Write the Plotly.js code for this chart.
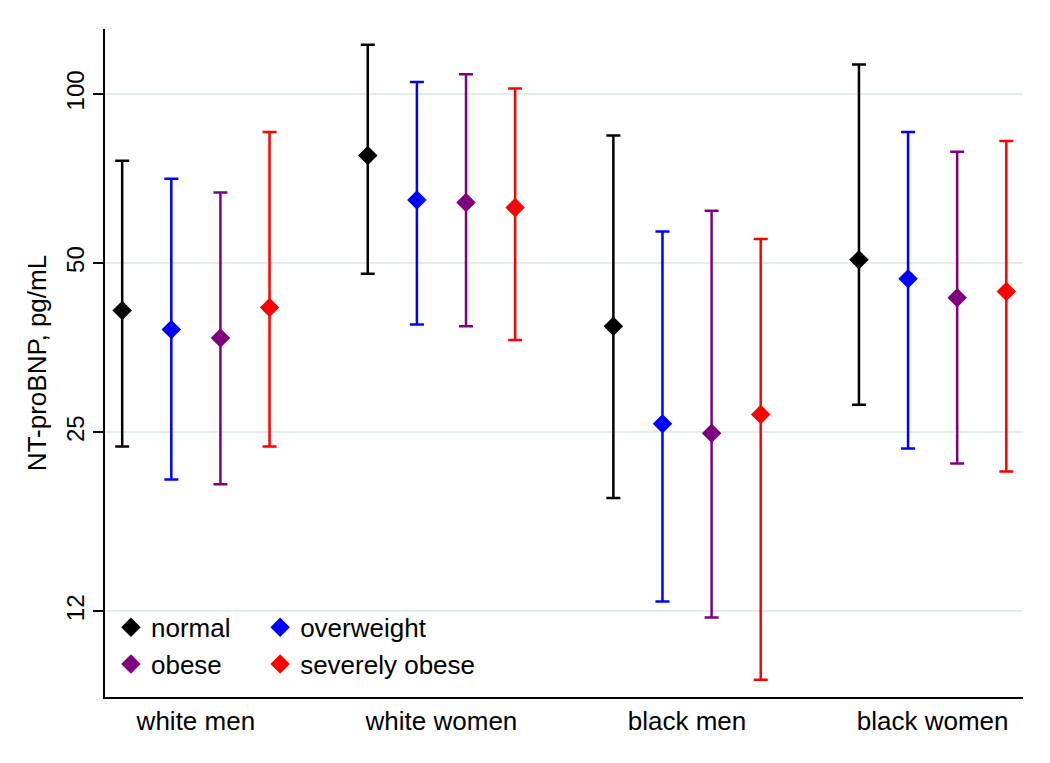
<!DOCTYPE html>
<html>
<head>
<meta charset="utf-8">
<script src="https://cdn.plot.ly/plotly-3.0.1.min.js"></script>
<style>html,body{margin:0;padding:0;background:#fff;}#chart{width:1050px;height:763px;}</style>
</head>
<body>
<div id="chart"></div>
<script>
// Categories (x axis)
var categories = ["white men", "white women", "black men", "black women"];
// BMI groups (series)
var seriesNames = ["normal", "overweight", "obese", "severely obese"];
var seriesColors = ["#000000", "#0000ff", "#7f007f", "#ff0000"];

// Point estimates, NT-proBNP pg/mL
var normalVals     = [41.2, 77.7, 38.6, 50.7];
var overweightVals = [38.1, 64.8, 25.9, 46.9];
var obeseVals      = [36.8, 64.1, 24.9, 43.4];
var severeVals     = [41.7, 62.8, 26.9, 44.5];

// Upper confidence limits
var normalUpper     = [76.1, 122.4, 84.4, 112.9];
var overweightUpper = [70.7, 105.0, 56.9, 85.6];
var obeseUpper      = [66.8, 108.4, 62.0, 78.9];
var severeUpper     = [85.6, 102.3, 55.2, 82.5];

// Lower confidence limits
var normalLower     = [23.6, 47.9, 19.1, 28.0];
var overweightLower = [20.6, 38.9, 12.5, 23.4];
var obeseLower      = [20.2, 38.6, 11.7, 22.0];
var severeLower     = [23.6, 36.5, 9.07, 21.3];

// Y tick labels
var yTickVals = [12, 25, 50, 100];
var yTickText = ["12", "25", "50", "100"];

var values = [normalVals, overweightVals, obeseVals, severeVals];
var uppers = [normalUpper, overweightUpper, obeseUpper, severeUpper];
var lowers = [normalLower, overweightLower, obeseLower, severeLower];
var legendIds = ["legend", "legend2", "legend", "legend2"];

var FONT = "'Liberation Sans', Arial, sans-serif";

var traces = seriesNames.map(function (name, i) {
  return {
    type: "scatter",
    mode: "markers",
    name: name,
    x: categories,
    y: values[i],
    legend: legendIds[i],
    marker: { symbol: "diamond", size: 15, color: seriesColors[i] },
    error_y: {
      type: "data",
      symmetric: false,
      array: uppers[i].map(function (u, j) { return u - values[i][j]; }),
      arrayminus: lowers[i].map(function (l, j) { return values[i][j] - l; }),
      color: seriesColors[i],
      thickness: 2.5,
      width: 7
    },
    hoverinfo: "x+y+name"
  };
});

var layout = {
  width: 1050,
  height: 763,
  paper_bgcolor: "#ffffff",
  plot_bgcolor: "#ffffff",
  font: { family: FONT, color: "#000000", size: 26 },
  margin: { l: 105, r: 27, t: 29, b: 66 },
  scattermode: "group",
  scattergap: 0.2,
  xaxis: {
    type: "category",
    range: [-0.37, 3.368],
    showline: true,
    linecolor: "#000000",
    linewidth: 1.5,
    showgrid: false,
    zeroline: false,
    ticks: "",
    tickfont: { family: FONT, size: 26, color: "#000000" }
  },
  yaxis: {
    type: "log",
    range: [0.9269, 2.1157],
    tickvals: yTickVals,
    ticktext: yTickText,
    tickangle: -90,
    ticks: "outside",
    ticklen: 10,
    tickwidth: 1.5,
    tickcolor: "#000000",
    showline: true,
    linecolor: "#000000",
    linewidth: 1.5,
    showgrid: true,
    gridcolor: "#e2ecef",
    gridwidth: 2,
    zeroline: false,
    tickfont: { family: FONT, size: 24, color: "#000000" },
    title: { text: "NT-proBNP, pg/mL", font: { family: FONT, size: 26, color: "#000000" }, standoff: 8 }
  },
  legend: {
    x: 0.0065, y: 0.0766, xanchor: "left", yanchor: "middle",
    orientation: "v",
    bgcolor: "rgba(0,0,0,0)",
    font: { family: FONT, size: 26, color: "#000000" },
    tracegroupgap: 0
  },
  legend2: {
    x: 0.169, y: 0.0766, xanchor: "left", yanchor: "middle",
    orientation: "v",
    bgcolor: "rgba(0,0,0,0)",
    font: { family: FONT, size: 26, color: "#000000" },
    tracegroupgap: 0
  },
  showlegend: true
};

Plotly.newPlot("chart", traces, layout, { displayModeBar: false, responsive: false });
</script>
</body>
</html>
